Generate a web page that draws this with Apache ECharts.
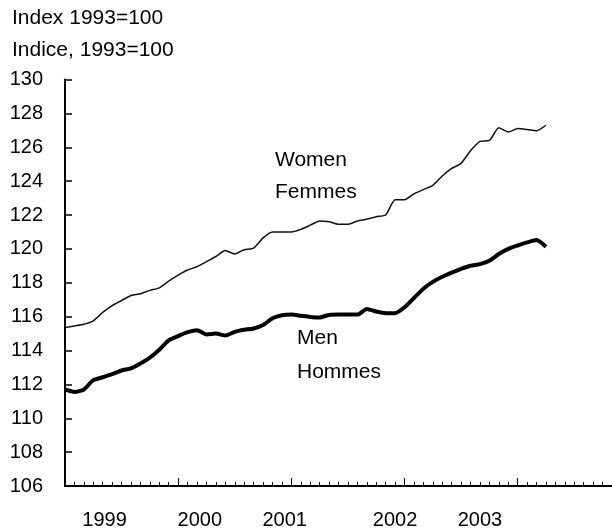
<!DOCTYPE html>
<html>
<head>
<meta charset="utf-8">
<script src="https://cdn.jsdelivr.net/npm/echarts@6/dist/echarts.min.js"></script>
<style>
  html, body { margin: 0; padding: 0; background: #fff; }
  #chart { width: 612px; height: 531px; }
</style>
</head>
<body>
<div id="chart"></div>
<script>
  // monthly index, Jan 1999 onwards
  var months = [];
  for (var m = 0; m < 52; m++) { months.push(m); }

  var women = [115.35, 115.45, 115.55, 115.75, 116.25, 116.65, 116.95, 117.25, 117.35, 117.55,
    117.7, 118.1, 118.45, 118.75, 118.95, 119.25, 119.55, 119.9, 119.7, 119.95,
    120.05, 120.65, 121.0, 121.0, 121.0, 121.15, 121.4, 121.65, 121.6, 121.45,
    121.45, 121.65, 121.75, 121.9, 122.0, 122.9, 122.9, 123.25, 123.5, 123.75,
    124.3, 124.75, 125.05, 125.8, 126.35, 126.4, 127.15, 126.9, 127.1, 127.05,
    126.98, 127.3];

  var men = [111.7, 111.55, 111.7, 112.25, 112.42, 112.6, 112.82, 112.95, 113.23, 113.58,
    114.05, 114.6, 114.85, 115.08, 115.2, 114.95, 115.0, 114.88, 115.1, 115.22,
    115.3, 115.5, 115.9, 116.08, 116.12, 116.05, 115.98, 115.95, 116.1, 116.12,
    116.12, 116.12, 116.45, 116.3, 116.2, 116.2, 116.55, 117.1, 117.65, 118.05,
    118.35, 118.6, 118.82, 119.0, 119.1, 119.3, 119.7, 120.0, 120.2, 120.38,
    120.52, 120.12];

  var yearLabels = ['1999', '2000', '2001', '2002', '2003'];
  // where the year names sit along the month axis
  var yearLabelAt = [4.2, 14.3, 23.3, 35.0, 44.0];

  var font = 'Liberation Sans, Arial, sans-serif';

  function pairs(vals) {
    var out = [];
    for (var i = 0; i < vals.length; i++) { out.push([months[i], vals[i]]); }
    return out;
  }

  var myChart = echarts.init(document.getElementById('chart'));
  var option = {
    animation: false,
    backgroundColor: '#fff',
    textStyle: { fontFamily: font },
    grid: { left: 65, right: 0, top: 79.5, bottom: 45 },
    graphic: [
      { type: 'text', left: 12, top: 8, style: { text: 'Index 1993=100', font: '21px ' + font, fill: '#000' } },
      { type: 'text', left: 12, top: 40, style: { text: 'Indice, 1993=100', font: '21px ' + font, fill: '#000' } },
      { type: 'text', left: 275, top: 150, style: { text: 'Women', font: '21px ' + font, fill: '#000' } },
      { type: 'text', left: 275, top: 182, style: { text: 'Femmes', font: '21px ' + font, fill: '#000' } },
      { type: 'text', left: 297, top: 328, style: { text: 'Men', font: '21px ' + font, fill: '#000' } },
      { type: 'text', left: 297, top: 362, style: { text: 'Hommes', font: '21px ' + font, fill: '#000' } }
    ],
    xAxis: [{
      type: 'value',
      min: 0,
      max: 58,
      interval: 1,
      splitLine: { show: false },
      axisLine: { lineStyle: { color: '#000', width: 2 } },
      axisTick: { inside: true, length: 4, lineStyle: { color: '#000', width: 1 } },
      axisLabel: {
        customValues: yearLabelAt,
        margin: 24,
        color: '#000',
        fontSize: 20,
        fontFamily: font,
        formatter: function (v) {
          var k = yearLabelAt.indexOf(v);
          return k >= 0 ? yearLabels[k] : '';
        }
      }
    }, {
      type: 'value',
      position: 'bottom',
      min: 0,
      max: 58,
      interval: 12,
      splitLine: { show: false },
      axisLine: { show: false },
      axisTick: { inside: true, length: 8, lineStyle: { color: '#000', width: 1 } },
      axisLabel: { show: false }
    }],
    yAxis: {
      type: 'value',
      min: 106,
      max: 130,
      interval: 2,
      splitLine: { show: false },
      axisLine: { show: true, lineStyle: { color: '#000', width: 2 } },
      axisTick: { show: true, inside: true, length: 7, lineStyle: { color: '#000', width: 1.5 } },
      axisLabel: { margin: 22, color: '#000', fontSize: 20, fontFamily: font }
    },
    series: [{
      name: 'Women',
      type: 'line',
      data: pairs(women),
      showSymbol: false,
      smooth: 0.2,
      lineStyle: { color: '#111', width: 1.5 }
    }, {
      name: 'Men',
      type: 'line',
      data: pairs(men),
      showSymbol: false,
      smooth: 0.2,
      lineStyle: { color: '#000', width: 4 }
    }]
  };
  myChart.setOption(option, true);
</script>
</body>
</html>
